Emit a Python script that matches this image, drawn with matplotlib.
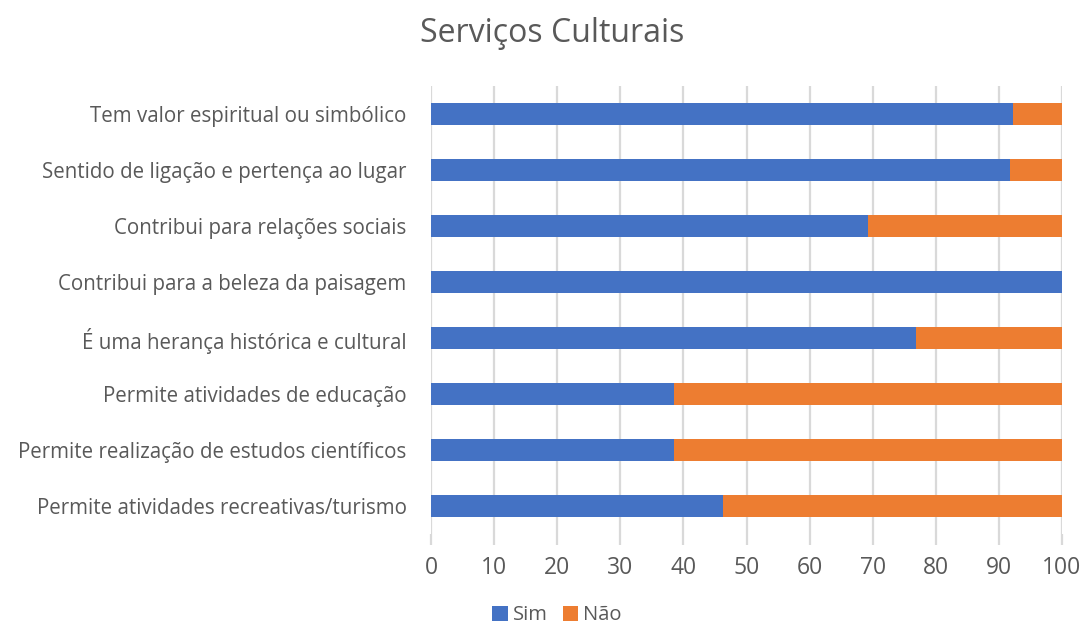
import matplotlib
matplotlib.use("Agg")
import matplotlib.pyplot as plt
import numpy as np

categories = [
    "Permite atividades recreativas/turismo",
    "Permite realização de estudos científicos",
    "Permite atividades de educação",
    "É uma herança histórica e cultural",
    "Contribui para a beleza da paisagem",
    "Contribui para relações sociais",
    "Sentido de ligação e pertença ao lugar",
    "Tem valor espiritual ou simbólico",
]
sim = [46.2, 38.5, 38.5, 76.9, 100.0, 69.2, 91.7, 92.3]
nao = [53.8, 61.5, 61.5, 23.1, 0.0, 30.8, 8.3, 7.7]
series_names = ["Sim", "Não"]
x_ticks = [0, 10, 20, 30, 40, 50, 60, 70, 80, 90, 100]
title = "Serviços Culturais"

BLUE = "#4472C4"
ORANGE = "#ED7D31"
TEXT = "#595959"
GRID = "#D9D9D9"

plt.rcParams["font.family"] = ["Open Sans", "DejaVu Sans"]

fig = plt.figure(figsize=(10.83, 6.26), dpi=100)
ax = fig.add_axes([431 / 1083, 1 - 534 / 626, (1062 - 431) / 1083, (534 - 86) / 626])

y = np.arange(len(categories))
ax.barh(y, sim, height=0.4, color=BLUE, label=series_names[0], zorder=3)
ax.barh(y, nao, left=sim, height=0.4, color=ORANGE, label=series_names[1], zorder=3)

ax.set_xlim(0, 100)
ax.set_ylim(-0.5, len(categories) - 0.5)
ax.set_xticks(x_ticks)
ax.set_yticks(y)
ax.set_yticklabels(categories)
ax.xaxis.grid(True, color=GRID, linewidth=1.6, zorder=0)
for s in ax.spines.values():
    s.set_visible(False)
ax.tick_params(axis="x", length=8, width=1.6, color=GRID, labelcolor=TEXT,
               labelsize=16.5, pad=7.5)
ax.tick_params(axis="y", length=0, labelcolor=TEXT, labelsize=14.8, pad=17.5)

fig.text(552 / 1083, 1 - 33 / 626, title, ha="center", va="center",
         fontsize=23, color=TEXT)

leg = fig.legend(loc="center", bbox_to_anchor=(557 / 1083, 1 - 615.5 / 626),
                 ncol=2, frameon=False, fontsize=14.5, handlelength=0.78,
                 handleheight=0.78, handletextpad=0.25, columnspacing=0.75,
                 borderpad=0.1)
for t in leg.get_texts():
    t.set_color(TEXT)

fig.savefig("out.png", dpi=100)
